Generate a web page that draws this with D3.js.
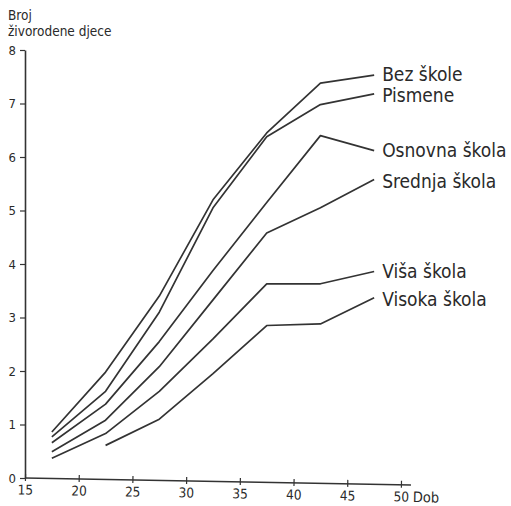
<!DOCTYPE html>
<html>
<head>
<meta charset="utf-8">
<script src="https://cdn.jsdelivr.net/npm/d3@7"></script>
<style>
  html, body { margin: 0; padding: 0; background: #fff; }
  svg { display: block; }
  text { font-family: "DejaVu Sans Condensed", "DejaVu Sans", sans-serif; fill: #2a2a2a; }
</style>
</head>
<body>
<svg id="chart" width="511" height="506"></svg>
<script>
// ---- data ----
const ages = [17.5, 22.5, 27.5, 32.5, 37.5, 42.5, 47.5];
const seriesNames = ["Bez škole", "Pismene", "Osnovna škola", "Srednja škola", "Viša škola", "Visoka škola"];
const bezSkole   = [0.86, 1.98, 3.40, 5.20, 6.45, 7.38, 7.53];
const pismene    = [0.77, 1.62, 3.10, 5.05, 6.38, 6.98, 7.18];
const osnovna    = [0.66, 1.38, 2.55, 3.88, 5.15, 6.40, 6.12];
const srednja    = [0.49, 1.08, 2.08, 3.33, 4.58, 5.05, 5.58];
const visa       = [0.37, 0.83, 1.62, 2.60, 3.63, 3.63, 3.86];
const visoka     = [null, 0.61, 1.10, 1.95, 2.85, 2.88, 3.37];
const xTicks = [15, 20, 25, 30, 35, 40, 45, 50];
const yTicks = [0, 1, 2, 3, 4, 5, 6, 7, 8];
const yTitle = ["Broj", "živorodene djece"];
const xTitle = "Dob";

const allSeries = [bezSkole, pismene, osnovna, srednja, visa, visoka];
// label baselines (layout only)
const labelY = [81, 102, 157, 188, 278, 306];

const svg = d3.select("#chart");
const ink = "#333";
const fontStack = '"DejaVu Sans Condensed", "DejaVu Sans", sans-serif';

const x = d3.scaleLinear().domain([15, 50]).range([25, 401]);
const y = d3.scaleLinear().domain([0, 8]).range([478, 50]);

// y axis
const yAxis = svg.append("g")
  .attr("transform", `translate(${x(15)},0)`)
  .call(d3.axisLeft(y).tickValues(yTicks).tickSize(5).tickSizeOuter(0).tickPadding(4));
yAxis.select(".domain").attr("stroke", ink).attr("stroke-width", 1.6);
yAxis.selectAll(".tick line").attr("stroke", ink).attr("stroke-width", 1.2);
yAxis.selectAll(".tick text")
  .style("font-family", fontStack)
  .style("font-size", "13px").attr("fill", "#2a2a2a");

// x axis (slightly slanted as in the scan)
const angle = Math.atan2(7, 385) * 180 / Math.PI;
const xAxis = svg.append("g")
  .attr("transform", `translate(0,${y(0)}) rotate(${angle},${x(15)},0)`)
  .call(d3.axisBottom(x).tickValues(xTicks).tickSize(4).tickSizeOuter(0).tickPadding(3));
xAxis.select(".domain").attr("stroke", ink).attr("stroke-width", 1.6)
  .attr("d", `M${x(15)},0H${x(50) + 10}`);
xAxis.selectAll(".tick line").attr("stroke", ink).attr("stroke-width", 1.2)
  .attr("y1", -4).attr("y2", 3);
xAxis.selectAll(".tick text")
  .style("font-family", fontStack)
  .style("font-size", "13.5px").attr("fill", "#2a2a2a");
xAxis.append("text")
  .attr("x", x(50) + 12).attr("y", 17)
  .attr("text-anchor", "start")
  .style("font-size", "14.5px")
  .text(xTitle);

// y title
svg.append("g").selectAll("text").data(yTitle).join("text")
  .attr("x", 8).attr("y", (d, i) => 20 + i * 16)
  .style("font-size", "13.5px")
  .text(d => d);

// lines
const line = d3.line()
  .defined(d => d.v !== null)
  .x(d => x(d.a))
  .y(d => y(d.v));

svg.append("g").selectAll("path").data(allSeries).join("path")
  .attr("d", s => line(s.map((v, i) => ({ a: ages[i], v }))))
  .attr("fill", "none")
  .attr("stroke", ink)
  .attr("stroke-width", 1.7)
  .attr("stroke-linejoin", "round");

// labels
svg.append("g").selectAll("text").data(seriesNames).join("text")
  .attr("x", x(47.5) + 8)
  .attr("y", (d, i) => labelY[i])
  .style("font-size", "19px")
  .text(d => d);
</script>
</body>
</html>
